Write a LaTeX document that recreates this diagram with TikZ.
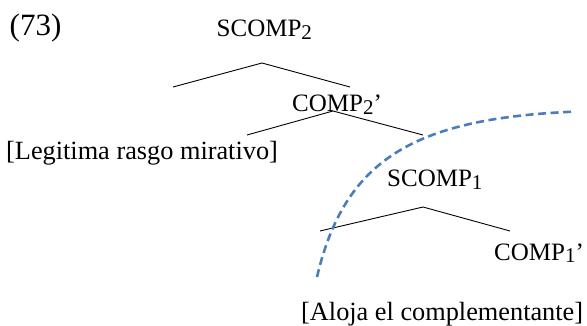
\documentclass[tikz,border=0pt]{standalone}
\usepackage{fontspec}
\setmainfont{Liberation Serif}
% lowered, slightly smaller index digit
\newcommand\idx[1]{\raisebox{-2.7pt}{\fontsize{21}{21}\selectfont #1}}
\definecolor{arcblue}{RGB}{74,126,187}
\begin{document}
\begin{tikzpicture}[x=1pt,y=-1pt,
  lbl/.style={anchor=base west, inner sep=0pt, font=\fontsize{25}{30}\selectfont},
  gloss/.style={anchor=base west, inner sep=0pt, font=\fontsize{26.3}{31}\selectfont},
  exnum/.style={anchor=base west, inner sep=0pt, font=\fontsize{31}{36}\selectfont},
  branch/.style={draw=black, line width=0.9pt},
  arcline/.style={draw=arcblue, line width=2.6pt, dash pattern=on 8pt off 4.5pt}]
\useasboundingbox (0,0) rectangle (587,326);

% example number
\node[exnum] (ex) at (9.5,36) {(73)};

% upper projection
\node[lbl] (scomp2) at (216.5,36.7) {SCOMP\idx{2}};
\coordinate (a2) at (262,63);
\coordinate (l2) at (173,87);
\coordinate (r2) at (350,87);
\draw[branch] (l2) -- (a2) -- (r2);

\node[lbl] (comp2) at (292,111.7) {COMP\idx{2}’};
\coordinate (a2p) at (333,111);
\coordinate (l2p) at (247,135);
\coordinate (r2p) at (423,135);
\draw[branch] (l2p) -- (a2p) -- (r2p);

\node[gloss] (legit) at (6,159.3) {[Legitima rasgo mirativo]};

% lower projection
\node[lbl] (scomp1) at (387,186.7) {SCOMP\idx{1}};
\coordinate (a1) at (423,207);
\coordinate (l1) at (320,231);
\coordinate (r1) at (510,231);
\draw[branch] (l1) -- (a1) -- (r1);

\node[lbl] (comp1) at (494,260) {COMP\idx{1}’};
\node[gloss] (aloja) at (301,320) {[Aloja el complementante]};

% dashed boundary around the lower projection
\coordinate (arcS) at (317,277);
\coordinate (arcE) at (573,111.7);
\draw[arcline] (arcS) .. controls (344.5,160) and (413,118.8) .. (arcE);
\end{tikzpicture}
\end{document}
